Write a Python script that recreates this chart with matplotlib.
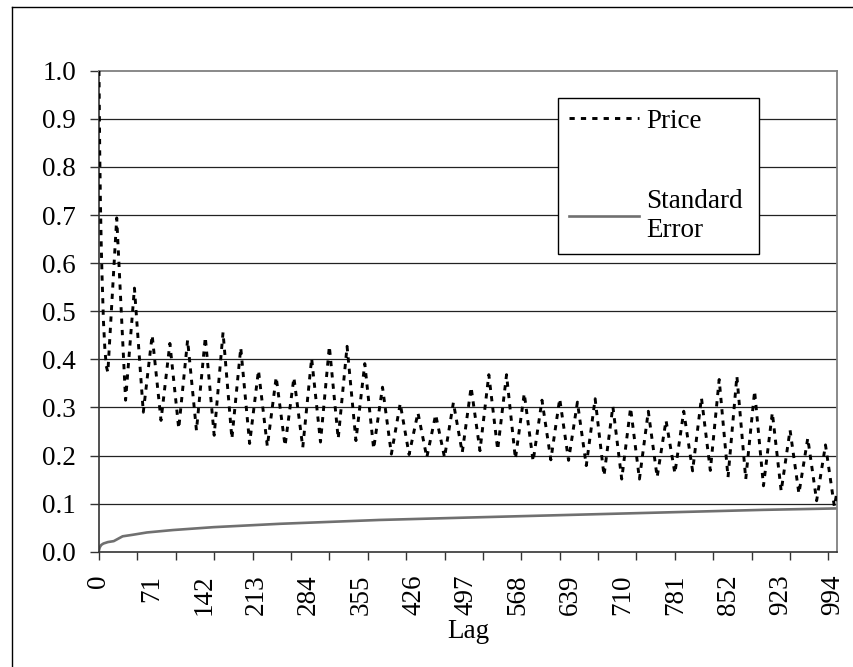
import numpy as np
import matplotlib
matplotlib.use("Agg")
import matplotlib.pyplot as plt
from matplotlib.lines import Line2D

# ---------------- data ----------------
# Autocorrelation of price (lag, value) read at turning points
acf_lags = [0, 1, 2, 3, 4, 6, 8, 10, 12,
            24, 36, 48, 60, 72, 84, 96, 108, 120, 132, 144, 156, 168, 180,
            192, 204, 216, 228, 240, 252, 264, 276, 288, 300, 312, 324, 336, 348,
            360, 372, 384, 396, 408, 420, 432, 444, 456, 468, 480, 492, 504, 516,
            528, 540, 552, 564, 576, 588, 600, 612, 624, 636, 648, 660, 672, 684,
            696, 708, 720, 732, 744, 756, 768, 780, 792, 804, 816, 828, 840, 852,
            864, 876, 888, 900, 912, 924, 936, 948, 960, 972, 984, 996, 1000]
acf_vals = [1.00, 0.83, 0.72, 0.64, 0.58, 0.48, 0.42, 0.385, 0.373,
            0.694, 0.315, 0.548, 0.290, 0.450, 0.273, 0.433, 0.256, 0.440, 0.252, 0.446, 0.242, 0.456, 0.235,
            0.424, 0.225, 0.377, 0.219, 0.363, 0.220, 0.362, 0.217, 0.402, 0.228, 0.427, 0.235, 0.427, 0.231,
            0.391, 0.214, 0.342, 0.203, 0.308, 0.202, 0.289, 0.196, 0.285, 0.196, 0.310, 0.206, 0.342, 0.210,
            0.368, 0.212, 0.368, 0.193, 0.329, 0.188, 0.315, 0.191, 0.318, 0.190, 0.311, 0.179, 0.318, 0.158,
            0.302, 0.151, 0.299, 0.151, 0.292, 0.155, 0.273, 0.163, 0.292, 0.168, 0.320, 0.169, 0.358, 0.155,
            0.365, 0.151, 0.334, 0.137, 0.289, 0.126, 0.253, 0.121, 0.236, 0.106, 0.222, 0.094, 0.128]

# Standard error curve
se_lags = [0, 1, 3, 6, 12, 20, 26, 32, 45, 65, 100, 155, 245, 380, 500, 600, 700, 800, 900, 1000]
se_vals = [0.003, 0.009, 0.014, 0.017, 0.020, 0.022, 0.027, 0.032, 0.035, 0.040, 0.045, 0.051,
           0.058, 0.066, 0.071, 0.075, 0.079, 0.083, 0.087, 0.090]

y_ticks = [0.0, 0.1, 0.2, 0.3, 0.4, 0.5, 0.6, 0.7, 0.8, 0.9, 1.0]
x_label_ticks = [0, 71, 142, 213, 284, 355, 426, 497, 568, 639, 710, 781, 852, 923, 994]
x_mark_ticks = [0, 52, 104, 156, 208, 260, 312, 364, 416, 468, 520, 572, 624, 676, 728, 780, 832, 884, 936, 988]

# ---------------- figure ----------------
plt.rcParams['font.family'] = ['Liberation Serif', 'DejaVu Serif']
FS = 19.5

fig = plt.figure(figsize=(8.54, 6.67), dpi=100)
ax = fig.add_axes([99 / 854, 1 - 551.7 / 667, (837.3 - 99) / 854, (551.7 - 70.7) / 667])

# grid lines
for v in y_ticks[1:-1]:
    ax.axhline(v, color='#222222', lw=0.9, zorder=1)

ax.plot(acf_lags, acf_vals, color='black', lw=2.1, linestyle=(0, (1.8, 2.1)),
        label='Price', zorder=3)
ax.plot(se_lags, se_vals, color='#707070', lw=1.9, label='Standard\nError', zorder=2)

ax.set_xlim(0, 1000)
ax.set_ylim(0, 1.0)

ax.set_yticks(y_ticks)
ax.set_yticklabels([f"{v:.1f}" for v in y_ticks], fontsize=FS)
ax.tick_params(axis='y', direction='out', length=6.5, width=1.0, color='#333333', pad=10)

ax.xaxis.remove_overlapping_locs = False
ax.set_xticks(x_mark_ticks)
ax.set_xticklabels([''] * len(x_mark_ticks))
ax.set_xticks(x_label_ticks, minor=True)
ax.set_xticklabels([str(v) for v in x_label_ticks], minor=True, rotation=90, fontsize=FS)
ax.tick_params(axis='x', which='major', direction='out', length=6, width=1.0, color='#333333')
ax.tick_params(axis='x', which='minor', length=0, pad=16.5)

ax.set_xlabel('Lag', fontsize=FS, va='center')
ax.xaxis.set_label_coords(0.5, -80 / 481)

for s in ['top', 'right']:
    ax.spines[s].set_color('#808080')
    ax.spines[s].set_linewidth(1.3)
for s in ['left', 'bottom']:
    ax.spines[s].set_color('#333333')
    ax.spines[s].set_linewidth(1.2)

leg = ax.legend(loc='upper left',
                bbox_to_anchor=(558 / 854, 1 - 253 / 667, (759 - 558) / 854, 155 / 667),
                bbox_transform=fig.transFigure, mode='expand',
                fontsize=FS, frameon=True, fancybox=False, shadow=False,
                framealpha=1, edgecolor='black', borderpad=0.4, borderaxespad=0,
                handlelength=2.6, handletextpad=0.25, labelspacing=2.05)
leg.get_frame().set_linewidth(1.0)

# outer chart border (left and top)
fig.add_artist(Line2D([12.3 / 854, 12.3 / 854], [0, 1 - 7.3 / 667], transform=fig.transFigure,
                      color='black', lw=1.0))
fig.add_artist(Line2D([12.3 / 854, 1], [1 - 7.3 / 667, 1 - 7.3 / 667], transform=fig.transFigure,
                      color='black', lw=1.0))

fig.savefig('out.png', dpi=100)
